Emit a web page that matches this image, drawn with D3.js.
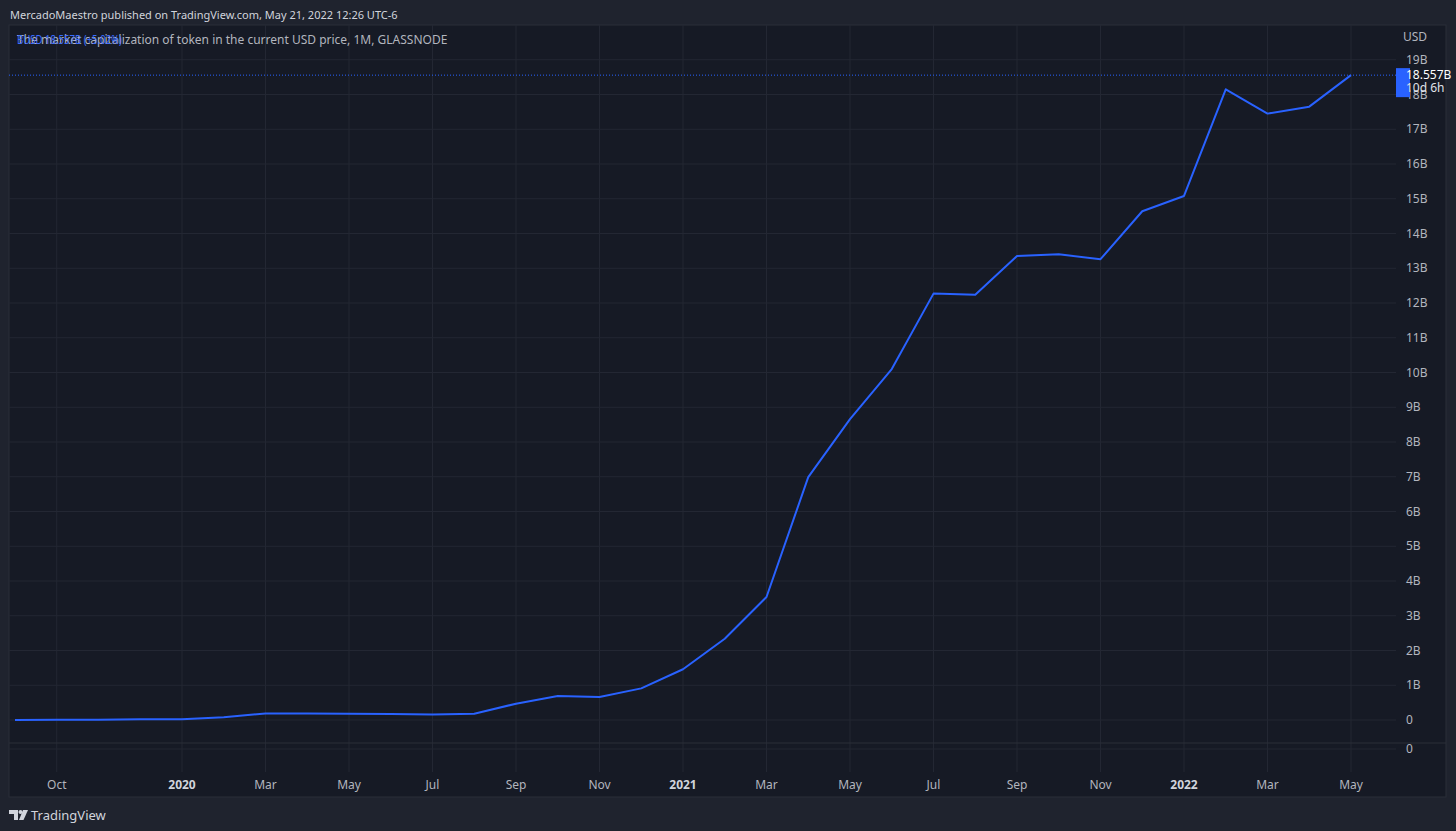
<!DOCTYPE html>
<html>
<head>
<meta charset="utf-8">
<script src="https://cdn.jsdelivr.net/npm/d3@7"></script>
<style>
  html, body { margin: 0; padding: 0; background: #1f232e; }
  svg { display: block; font-family: "Noto Sans", "Open Sans", sans-serif; }
</style>
</head>
<body>
<div id="chart"></div>
<script>
// monthly BUSD market cap, billions USD (Sep 2019 .. May 2022)
const months = [
  "2019-09","2019-10","2019-11","2019-12",
  "2020-01","2020-02","2020-03","2020-04","2020-05","2020-06","2020-07","2020-08","2020-09","2020-10","2020-11","2020-12",
  "2021-01","2021-02","2021-03","2021-04","2021-05","2021-06","2021-07","2021-08","2021-09","2021-10","2021-11","2021-12",
  "2022-01","2022-02","2022-03","2022-04","2022-05"
];
const marketCap = [
  0.00, 0.01, 0.01, 0.02,
  0.02, 0.08, 0.19, 0.19, 0.18, 0.17, 0.16, 0.18, 0.47, 0.69, 0.66, 0.91,
  1.46, 2.34, 3.54, 6.99, 8.66, 10.10, 12.27, 12.24, 13.35, 13.40, 13.26, 14.64,
  15.08, 18.15, 17.45, 17.65, 18.557
];
const timeTicks = ["2019-10","2020-01","2020-03","2020-05","2020-07","2020-09","2020-11","2021-01","2021-03","2021-05","2021-07","2021-09","2021-11","2022-01","2022-03","2022-05"];
const timeLabels = ["Oct","2020","Mar","May","Jul","Sep","Nov","2021","Mar","May","Jul","Sep","Nov","2022","Mar","May"];
const priceTicks = d3.range(0, 20);

const W = 1456, H = 831;
const pane = { left: 9, right: 1446, top: 25, bottom: 797 };
const plotRight = 1396;
const mainBottom = 743;
const gridBottom = 772;

const svg = d3.select("#chart").append("svg")
  .attr("width", W).attr("height", H);

svg.append("rect").attr("width", W).attr("height", H).attr("fill", "#1f232e");
svg.append("rect")
  .attr("x", pane.left).attr("y", pane.top)
  .attr("width", pane.right - pane.left).attr("height", pane.bottom - pane.top)
  .attr("fill", "#161a25").attr("stroke", "#2a2e39");

const x = d3.scalePoint().domain(months).range([15, 1351]);
const y = d3.scaleLinear().domain([0, 20]).range([720, pane.top]);

// vertical grid
svg.append("g").selectAll("line").data(timeTicks).join("line")
  .attr("x1", d => x(d)).attr("x2", d => x(d))
  .attr("y1", pane.top).attr("y2", gridBottom)
  .attr("stroke", "#232733");

// horizontal grid
svg.append("g").selectAll("line").data(priceTicks).join("line")
  .attr("x1", pane.left).attr("x2", plotRight)
  .attr("y1", d => y(d)).attr("y2", d => y(d))
  .attr("stroke", "#232733");

// pane separator + lower pane zero line
svg.append("line").attr("x1", pane.left).attr("x2", pane.right)
  .attr("y1", mainBottom).attr("y2", mainBottom).attr("stroke", "#2a2e39");
svg.append("line").attr("x1", pane.left).attr("x2", plotRight)
  .attr("y1", 749).attr("y2", 749).attr("stroke", "#232733");

// price axis labels
svg.append("g").selectAll("text").data(priceTicks).join("text")
  .attr("x", 1406).attr("y", d => y(d)).attr("dy", "0.35em")
  .attr("font-size", 12).attr("fill", "#b2b5be")
  .text(d => d === 0 ? "0" : d + "B");
svg.append("text").attr("x", 1406).attr("y", 749).attr("dy", "0.35em")
  .attr("font-size", 12).attr("fill", "#b2b5be").text("0");
svg.append("text").attr("x", 1403).attr("y", 37).attr("dy", "0.35em")
  .attr("font-size", 12).attr("fill", "#b2b5be").text("USD");

// time axis labels
svg.append("g").selectAll("text").data(timeTicks).join("text")
  .attr("x", d => x(d)).attr("y", 785).attr("dy", "0.35em")
  .attr("text-anchor", "middle").attr("font-size", 12)
  .attr("font-weight", (d, i) => /^\d/.test(timeLabels[i]) ? "bold" : null)
  .attr("fill", (d, i) => /^\d/.test(timeLabels[i]) ? "#d1d4dc" : "#b2b5be")
  .text((d, i) => timeLabels[i]);

// last value dotted line
const last = marketCap[marketCap.length - 1];
svg.append("line")
  .attr("x1", pane.left).attr("x2", plotRight)
  .attr("y1", y(last)).attr("y2", y(last))
  .attr("stroke", "#2962ff").attr("stroke-dasharray", "1,2");

// series line
const line = d3.line().x((d, i) => x(months[i])).y(d => y(d));
svg.append("path").datum(marketCap)
  .attr("d", line).attr("fill", "none")
  .attr("stroke", "#2962ff").attr("stroke-width", 2)
  .attr("stroke-linejoin", "round");

// last value tag
svg.append("rect").attr("x", plotRight).attr("y", y(last) - 7)
  .attr("width", 14).attr("height", 29).attr("fill", "#2962ff");
svg.append("text").attr("x", 1406).attr("y", y(last)).attr("dy", "0.35em")
  .attr("font-size", 12).attr("fill", "#ffffff").text("18.557B");
svg.append("text").attr("x", 1406).attr("y", y(last) + 13).attr("dy", "0.35em")
  .attr("font-size", 12).attr("fill", "#e0e3eb").text("10d 6h");

// header
svg.append("text").attr("x", 10).attr("y", 15).attr("dy", "0.35em")
  .attr("font-size", 11).attr("fill", "#d1d4dc")
  .text("MercadoMaestro published on TradingView.com, May 21, 2022 12:26 UTC-6");

// legend (overlapping, as in the snapshot)
svg.append("text").attr("x", 17).attr("y", 40).attr("dy", "0.35em")
  .attr("font-size", 12).attr("fill", "#b2b5be")
  .text("The market capitalization of token in the current USD price, 1M, GLASSNODE");
svg.append("text").attr("x", 17).attr("y", 40).attr("dy", "0.35em")
  .attr("font-size", 12).attr("fill", "#3a6dff")
  .attr("textLength", 105).attr("lengthAdjust", "spacingAndGlyphs")
  .text("BUSD 18.557B (+5.02%)");

// footer logo
const logo = svg.append("g").attr("fill", "#d1d4dc");
logo.append("path").attr("d", "M9,810 H18 V820 H14 V814 H9 Z");
logo.append("circle").attr("cx", 20.5).attr("cy", 812).attr("r", 2);
logo.append("path").attr("d", "M23,810 H28 L23.5,820 H19 Z");
svg.append("text").attr("x", 31).attr("y", 815).attr("dy", "0.35em")
  .attr("font-size", 13).attr("fill", "#d1d4dc").text("TradingView");
</script>
</body>
</html>
